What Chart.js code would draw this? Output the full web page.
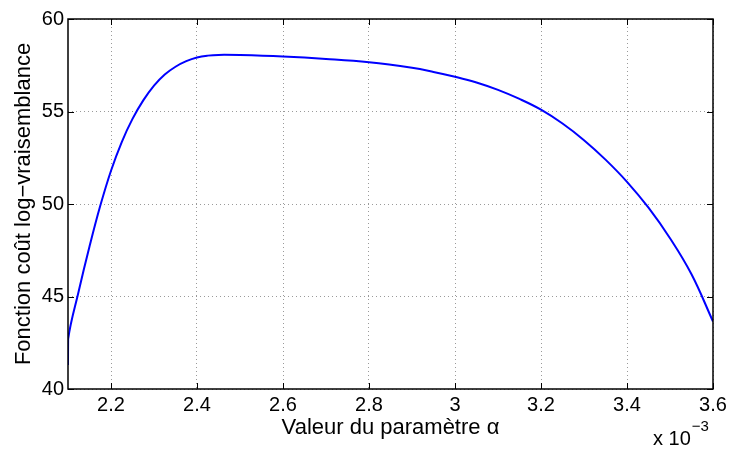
<!DOCTYPE html>
<html>
<head>
<meta charset="utf-8">
<script src="https://cdn.jsdelivr.net/npm/chart.js@4"></script>
<style>
    html, body { margin: 0; padding: 0; background: #fff; }
    #wrap { width: 733px; height: 450px; position: relative; }
</style>
</head>
<body>
<div id="wrap"><canvas id="chart"></canvas></div>
<script>
// alpha values in units of 1e-3
let alphaValues = [2.100, 2.1003, 2.125, 2.150, 2.175, 2.200, 2.225, 2.250, 2.275, 2.300, 2.325, 2.350,
    2.375, 2.400, 2.425, 2.450, 2.500, 2.600, 2.700, 2.800, 2.900, 2.950, 3.000, 3.050, 3.100, 3.150, 3.200,
    3.250, 3.300, 3.350, 3.400, 3.450, 3.500, 3.550, 3.600];
let costValues = [41.3, 42.7, 45.3, 47.7, 49.9, 51.8, 53.35, 54.6, 55.6, 56.4, 57.0, 57.42,
    57.72, 57.92, 58.02, 58.06, 58.05, 57.97, 57.84, 57.66, 57.36, 57.14, 56.88, 56.57, 56.17, 55.68, 55.1,
    54.35, 53.45, 52.4, 51.2, 49.8, 48.15, 46.2, 43.65];

let xTicks = [2.2, 2.4, 2.6, 2.8, 3.0, 3.2, 3.4, 3.6];
let yTicks = [40, 45, 50, 55, 60];

let xTitle = "Valeur du paramètre α";
let yTitle = "Fonction coût log−vraisemblance";
let xMultiplier = "x 10";
let xExponent = "−3";

const FONT = "'Liberation Sans', Arial, Helvetica, sans-serif";

// box around the plot with inward ticks on all four sides, plus the x 10^-3 note
const boxPlugin = {
    id: "box",
    afterDraw(chart) {
        let ctx = chart.ctx;
        let a = chart.chartArea;
        let xs = chart.scales.x;
        let ys = chart.scales.y;
        let tl = 6;
        ctx.save();
        ctx.strokeStyle = "#000";
        ctx.lineWidth = 1;
        xTicks.forEach(v => {
            let px = Math.round(xs.getPixelForValue(v)) + 0.5;
            ctx.beginPath();
            ctx.moveTo(px, a.bottom); ctx.lineTo(px, a.bottom - tl);
            ctx.moveTo(px, a.top); ctx.lineTo(px, a.top + tl);
            ctx.stroke();
        });
        yTicks.forEach(v => {
            let py = Math.round(ys.getPixelForValue(v)) + 0.5;
            ctx.beginPath();
            ctx.moveTo(a.left, py); ctx.lineTo(a.left + tl, py);
            ctx.moveTo(a.right, py); ctx.lineTo(a.right - tl, py);
            ctx.stroke();
        });
        ctx.lineWidth = 1.5;
        ctx.strokeRect(a.left, a.top, a.right - a.left, a.bottom - a.top);

        ctx.fillStyle = "#000";
        ctx.textBaseline = "alphabetic";
        ctx.textAlign = "left";
        ctx.font = "20px " + FONT;
        ctx.fillText(xMultiplier, 653, 445);
        let w = ctx.measureText(xMultiplier).width;
        ctx.font = "15px " + FONT;
        ctx.fillText(xExponent, 653 + w + 1, 431);
        ctx.restore();
    }
};

let points = alphaValues.map((x, i) => ({ x: x, y: costValues[i] }));

new Chart(document.getElementById("chart"), {
    type: "line",
    data: {
        datasets: [{
            data: points,
            borderColor: "#0000ff",
            borderWidth: 2,
            pointRadius: 0,
            tension: 0.4,
            fill: false
        }]
    },
    options: {
        responsive: true,
        maintainAspectRatio: false,
        animation: false,
        events: [],
        layout: { padding: { top: 19, right: 20, left: 0, bottom: 0 } },
        plugins: { legend: { display: false }, tooltip: { enabled: false } },
        scales: {
            x: {
                type: "linear",
                min: 2.1,
                max: 3.6,
                afterFit: s => { s.height = 61; },
                afterBuildTicks: s => { s.ticks = xTicks.map(v => ({ value: v })); },
                grid: { color: "#9a9a9a", lineWidth: 1, drawTicks: false },
                border: { display: false, dash: [1, 3] },
                ticks: {
                    padding: 4,
                    color: "#000",
                    font: { family: FONT, size: 20 },
                    maxRotation: 0,
                    autoSkip: false,
                    callback: v => String(Math.round(v * 10) / 10)
                },
                title: {
                    display: true,
                    text: xTitle,
                    color: "#000",
                    font: { family: FONT, size: 22 },
                    padding: { top: 0, bottom: 9 }
                }
            },
            y: {
                min: 40,
                max: 60,
                afterFit: s => { s.width = 68; },
                afterBuildTicks: s => { s.ticks = yTicks.map(v => ({ value: v })); },
                grid: { color: "#9a9a9a", lineWidth: 1, drawTicks: false },
                border: { display: false, dash: [1, 3] },
                ticks: {
                    padding: 4,
                    color: "#000",
                    font: { family: FONT, size: 20 },
                    autoSkip: false
                },
                title: {
                    display: true,
                    text: yTitle,
                    color: "#000",
                    font: { family: FONT, size: 22 },
                    padding: { top: 11, bottom: 0 }
                }
            }
        }
    },
    plugins: [boxPlugin]
});
</script>
</body>
</html>
